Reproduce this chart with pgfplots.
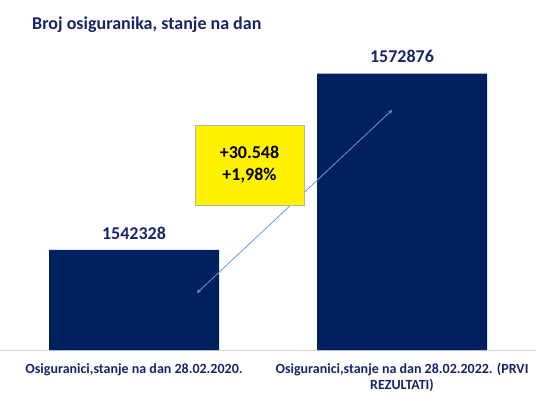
\documentclass[border=0pt]{standalone}
\usepackage{pgfplots}
\pgfplotsset{compat=1.18}
\usepackage{fontspec}
\setmainfont{Carlito}
\definecolor{barblue}{HTML}{002060}
\definecolor{txtblue}{HTML}{172468}
\definecolor{arrowblue}{HTML}{6A9BD1}
\begin{document}
\begin{tikzpicture}[x=1pt,y=1pt]
\useasboundingbox (0,-47) rectangle (544,350);
\begin{axis}[
  at={(0,0)}, anchor=south west,
  scale only axis, width=536pt, height=310pt,
  xmin=-0.5, xmax=1.5, ymin=1525000, ymax=1578692,
  ybar, bar width=170pt,
  axis y line=none, axis x line*=bottom,
  x axis line style={draw=gray!35, -},
  xtick={0,1},
  xticklabels={{Osiguranici,stanje na dan 28.02.2020.},{Osiguranici,stanje na dan 28.02.2022. (PRVI\\REZULTATI)}},
  major tick length=0pt,
  xticklabel style={font=\fontsize{14}{16}\selectfont\bfseries, text=txtblue, align=center, yshift=-10pt},
  point meta=explicit symbolic,
  nodes near coords,
  nodes near coords style={font=\fontsize{18}{22}\selectfont\bfseries, text=txtblue, yshift=7pt},
  clip=false,
]
\addplot[fill=barblue, draw=none] coordinates {(0,1542328) [1542328] (1,1572876) [1572876]};
\draw[arrowblue, line width=0.8pt, <->, >=stealth] (axis cs:0.235,1534872) -- (axis cs:0.963,1566568);
\node[fill=yellow, draw=gray!60, line width=0.6pt, minimum width=109pt, minimum height=80pt, align=center,
      font=\fontsize{18}{22}\selectfont\bfseries, text=black] at (axis cs:0.431,1557042) {+30.548\\+1,98\%};
\end{axis}
\node[anchor=base west, inner sep=0pt, font=\fontsize{18}{22}\selectfont\bfseries, text=txtblue] at (32,320) {Broj osiguranika, stanje na dan};
\end{tikzpicture}
\end{document}
